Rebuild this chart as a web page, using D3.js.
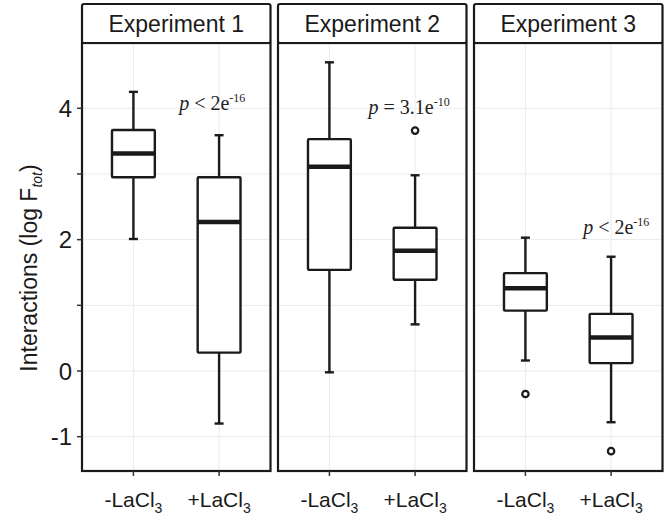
<!DOCTYPE html>
<html>
<head>
<meta charset="utf-8">
<script src="https://cdn.jsdelivr.net/npm/d3@7"></script>
<style>
  html, body { margin: 0; padding: 0; background: #fff; }
  svg { display: block; }
</style>
</head>
<body>
<svg id="chart" width="664" height="525"></svg>
<script>
// ---- Data ----
const experiments = ["Experiment 1", "Experiment 2", "Experiment 3"];
const treatmentBase = ["-LaCl", "+LaCl"];
const treatmentSub = ["3", "3"];
const yTicks = [-1, 0, 1, 2, 3, 4];
const yTickLabels = ["-1", "0", "", "2", "", "4"];

const whiskerLow  = [[2.01, -0.80], [-0.02, 0.71], [0.16, -0.78]];
const q1          = [[2.95,  0.28], [ 1.54, 1.39], [0.92,  0.12]];
const median      = [[3.31,  2.27], [ 3.11, 1.83], [1.26,  0.51]];
const q3          = [[3.67,  2.95], [ 3.53, 2.18], [1.49,  0.87]];
const whiskerHigh = [[4.25,  3.59], [ 4.70, 2.98], [2.03,  1.74]];
const outliers    = [[[], []], [[], [3.66]], [[-0.35], [-1.22]]];

const pRelation = ["< 2e", "= 3.1e", "< 2e"];
const pExponent = ["-16", "-10", "-16"];
const pX = [1.92, 1.93, 2.06];   // in category units
const pY = [3.97, 3.91, 2.08];   // in data units

// ---- Layout ----
const svg = d3.select("#chart");
const panelTop = 43, panelBottom = 471;
const stripTop = 4;
const panelLeft = [82, 278, 474];
const panelW = 188.5;
const ink = "#1a1a1a";
const sans = "'Liberation Sans', Arial, sans-serif";
const serif = "'Liberation Serif', 'Times New Roman', serif";

const y = d3.scaleLinear().domain([-1.5225, 4.994]).range([panelBottom, panelTop]);
const x = d3.scaleLinear().domain([0.4, 2.6]).range([0, panelW]);
const boxHalf = 0.25, capHalf = 4.5;
const lw = 2.4;

experiments.forEach((exp, i) => {
  const g = svg.append("g").attr("transform", `translate(${panelLeft[i]},0)`);

  // panel background + grid
  g.append("rect").attr("x", 0).attr("y", panelTop).attr("width", panelW)
    .attr("height", panelBottom - panelTop).attr("fill", "#fff");
  g.selectAll("line.hgrid").data(yTicks).join("line")
    .attr("x1", 0).attr("x2", panelW)
    .attr("y1", d => y(d)).attr("y2", d => y(d))
    .attr("stroke", "#ebebeb").attr("stroke-width", 1);
  g.selectAll("line.vgrid").data([1, 2]).join("line")
    .attr("x1", d => x(d)).attr("x2", d => x(d))
    .attr("y1", panelTop).attr("y2", panelBottom)
    .attr("stroke", "#ebebeb").attr("stroke-width", 1);

  // boxes
  [0, 1].forEach(j => {
    const cx = x(j + 1);
    const bg = g.append("g");
    bg.append("line").attr("x1", cx).attr("x2", cx)
      .attr("y1", y(whiskerHigh[i][j])).attr("y2", y(q3[i][j]))
      .attr("stroke", ink).attr("stroke-width", lw);
    bg.append("line").attr("x1", cx).attr("x2", cx)
      .attr("y1", y(q1[i][j])).attr("y2", y(whiskerLow[i][j]))
      .attr("stroke", ink).attr("stroke-width", lw);
    [whiskerHigh[i][j], whiskerLow[i][j]].forEach(v => {
      bg.append("line").attr("x1", cx - capHalf).attr("x2", cx + capHalf)
        .attr("y1", y(v)).attr("y2", y(v))
        .attr("stroke", ink).attr("stroke-width", lw);
    });
    bg.append("rect")
      .attr("x", x(j + 1 - boxHalf)).attr("width", x(j + 1 + boxHalf) - x(j + 1 - boxHalf))
      .attr("y", y(q3[i][j])).attr("height", y(q1[i][j]) - y(q3[i][j]))
      .attr("fill", "#fff").attr("stroke", ink).attr("stroke-width", lw).attr("rx", 1);
    bg.append("line")
      .attr("x1", x(j + 1 - boxHalf)).attr("x2", x(j + 1 + boxHalf))
      .attr("y1", y(median[i][j])).attr("y2", y(median[i][j]))
      .attr("stroke", ink).attr("stroke-width", 4.5);
    bg.selectAll("circle").data(outliers[i][j]).join("circle")
      .attr("cx", cx).attr("cy", d => y(d)).attr("r", 3.2)
      .attr("fill", "#fff").attr("stroke", ink).attr("stroke-width", 2.2);
  });

  // p-value annotation
  const t = g.append("text")
    .attr("x", x(pX[i])).attr("y", y(pY[i]))
    .attr("text-anchor", "middle")
    .attr("font-family", serif).attr("font-size", 20).attr("fill", "#222");
  t.append("tspan").attr("font-style", "italic").text("p");
  t.append("tspan").text(" " + pRelation[i]);
  t.append("tspan").attr("font-size", 12).attr("dy", -8).text(pExponent[i]);

  // panel border
  g.append("rect").attr("x", 0).attr("y", panelTop).attr("width", panelW)
    .attr("height", panelBottom - panelTop)
    .attr("fill", "none").attr("stroke", ink).attr("stroke-width", 2.2);

  // strip
  g.append("rect").attr("x", 0).attr("y", stripTop).attr("width", panelW)
    .attr("height", panelTop - stripTop)
    .attr("fill", "#fff").attr("stroke", ink).attr("stroke-width", 2.2).attr("rx", 2);
  g.append("text").attr("x", panelW / 2).attr("y", 32)
    .attr("text-anchor", "middle").attr("font-family", sans)
    .attr("font-size", 23).attr("fill", ink).text(exp);

  // x ticks + labels
  [0, 1].forEach(j => {
    const cx = x(j + 1);
    g.append("line").attr("x1", cx).attr("x2", cx)
      .attr("y1", panelBottom).attr("y2", panelBottom + 5)
      .attr("stroke", "#333").attr("stroke-width", 1.5);
    const lt = g.append("text").attr("x", cx).attr("y", 507)
      .attr("text-anchor", "middle").attr("font-family", sans)
      .attr("font-size", 21).attr("fill", ink);
    lt.append("tspan").text(treatmentBase[j]);
    lt.append("tspan").attr("font-size", 14).attr("dy", 6).text(treatmentSub[j]);
  });
});

// y axis ticks + labels
const ya = svg.append("g").attr("transform", `translate(${panelLeft[0]},0)`);
ya.selectAll("line").data(yTicks).join("line")
  .attr("x1", -5).attr("x2", 0)
  .attr("y1", d => y(d)).attr("y2", d => y(d))
  .attr("stroke", "#333").attr("stroke-width", 1.5);
ya.selectAll("text").data(yTicks).join("text")
  .attr("x", -10).attr("y", d => y(d))
  .attr("dy", "0.36em")
  .attr("text-anchor", "end").attr("font-family", sans)
  .attr("font-size", 24).attr("fill", ink)
  .text((d, k) => yTickLabels[k]);

// y axis title
const yt = svg.append("text")
  .attr("transform", "translate(37,268) rotate(-90)")
  .attr("text-anchor", "middle").attr("font-family", sans)
  .attr("font-size", 23).attr("fill", ink);
yt.append("tspan").text("Interactions (log F");
yt.append("tspan").attr("font-size", 14).attr("font-style", "italic").attr("dy", 5).text("tot");
yt.append("tspan").attr("dy", -5).text(")");
</script>
</body>
</html>
